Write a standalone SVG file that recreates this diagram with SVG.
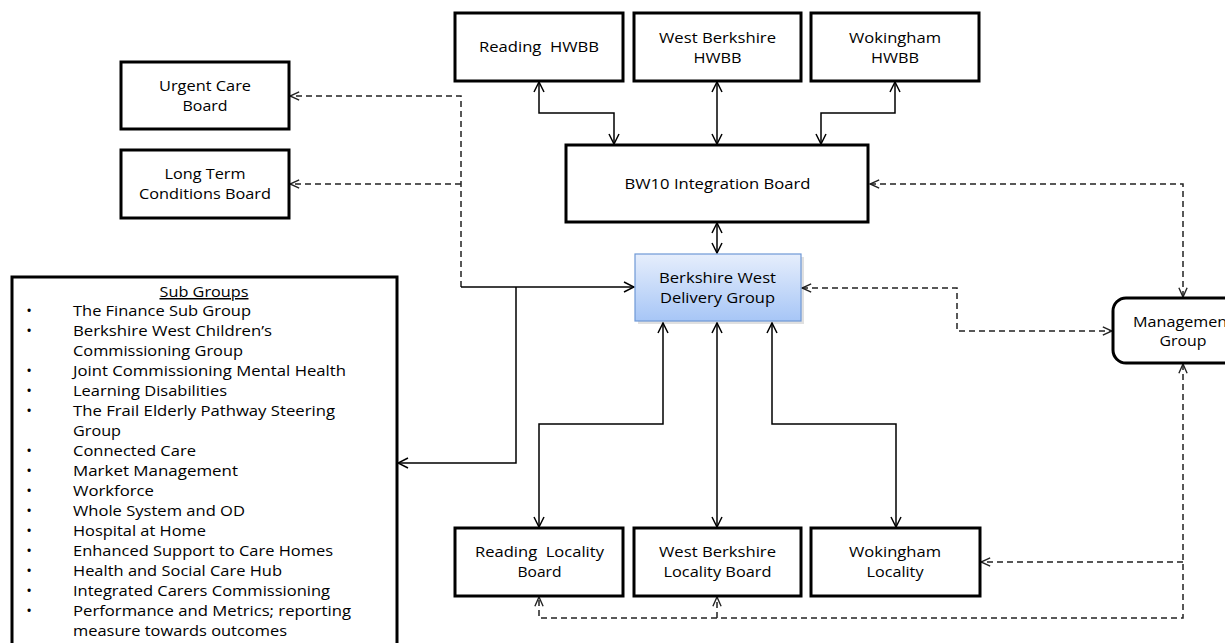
<svg xmlns="http://www.w3.org/2000/svg" width="1225" height="643" viewBox="0 0 1225 643">
<style>
  .box { fill: #ffffff; stroke: #000; stroke-width: 3; }
  .t { font-family: "Open Sans", "Liberation Sans", sans-serif; font-size: 15px; fill: #000; }
  .c { text-anchor: middle; }
  .solid { fill: none; stroke: #000; stroke-width: 1.5; }
  .dash { fill: none; stroke: #222; stroke-width: 1.5; stroke-dasharray: 6 4; }
</style>
<defs>
  <marker id="ah" viewBox="0 0 12 12" markerWidth="12" markerHeight="12" refX="11" refY="6" orient="auto-start-reverse" markerUnits="userSpaceOnUse">
    <path d="M1,1 L11,6 L1,11" fill="none" stroke="#000" stroke-width="1.5"/>
  </marker>
  <marker id="ahd" viewBox="0 0 12 12" markerWidth="11" markerHeight="11" refX="11" refY="6" orient="auto-start-reverse" markerUnits="userSpaceOnUse">
    <path d="M1,1.5 L11,6 L1,10.5" fill="none" stroke="#222" stroke-width="1.5"/>
  </marker>
  <linearGradient id="blue" x1="0" y1="0" x2="0" y2="1">
    <stop offset="0" stop-color="#e6eefc"/>
    <stop offset="1" stop-color="#a7c6f6"/>
  </linearGradient>
</defs>

<g id="connectors">
  <path class="solid" d="M539,82 V113 H614 V144" marker-start="url(#ah)" marker-end="url(#ah)"/>
  <path class="solid" d="M717,82 V144" marker-start="url(#ah)" marker-end="url(#ah)"/>
  <path class="solid" d="M895,82 V113 H821 V144" marker-start="url(#ah)" marker-end="url(#ah)"/>
  <path class="solid" d="M717,223 V253" marker-start="url(#ah)" marker-end="url(#ah)"/>
  <path class="dash" d="M461,287 V96 H290" marker-end="url(#ahd)"/>
  <path class="dash" d="M461,184 H290" marker-end="url(#ahd)"/>
  <path class="solid" d="M461,287 H634" marker-end="url(#ah)"/>
  <path class="solid" d="M516,287 V463 H398" marker-end="url(#ah)"/>
  <path class="solid" d="M663,323 V424 H539 V527" marker-start="url(#ah)" marker-end="url(#ah)"/>
  <path class="solid" d="M717,323 V527" marker-start="url(#ah)" marker-end="url(#ah)"/>
  <path class="solid" d="M772,323 V424 H896 V527" marker-start="url(#ah)" marker-end="url(#ah)"/>
  <path class="dash" d="M870,184 H1183 V297" marker-start="url(#ahd)" marker-end="url(#ahd)"/>
  <path class="dash" d="M802,288 H957 V331 H1112" marker-start="url(#ahd)" marker-end="url(#ahd)"/>
  <path class="dash" d="M1183,364 V618 H539 V597" marker-start="url(#ahd)" marker-end="url(#ahd)"/>
  <path class="dash" d="M717,618 V597" marker-end="url(#ahd)"/>
  <path class="dash" d="M1183,562 H981" marker-end="url(#ahd)"/>
</g>

<g id="reading-hwbb">
  <rect class="box" x="455" y="13" width="168" height="68"/>
  <text class="t c" x="539" y="52" textLength="120" lengthAdjust="spacingAndGlyphs" xml:space="preserve">Reading  HWBB</text>
</g>
<g id="west-berkshire-hwbb">
  <rect class="box" x="634" y="13" width="167" height="68"/>
  <text class="t c" x="717.5" y="43" textLength="117" lengthAdjust="spacingAndGlyphs">West Berkshire</text>
  <text class="t c" x="717.5" y="63" textLength="48" lengthAdjust="spacingAndGlyphs">HWBB</text>
</g>
<g id="wokingham-hwbb">
  <rect class="box" x="811" y="13" width="168" height="68"/>
  <text class="t c" x="895" y="43" textLength="92" lengthAdjust="spacingAndGlyphs">Wokingham</text>
  <text class="t c" x="895" y="63" textLength="48" lengthAdjust="spacingAndGlyphs">HWBB</text>
</g>
<g id="bw10-integration-board">
  <rect class="box" x="566" y="145" width="302" height="77"/>
  <text class="t c" x="717.5" y="189" textLength="186" lengthAdjust="spacingAndGlyphs">BW10 Integration Board</text>
</g>
<g id="urgent-care-board">
  <rect class="box" x="121" y="62" width="168" height="67"/>
  <text class="t c" x="205" y="91" textLength="92" lengthAdjust="spacingAndGlyphs">Urgent Care</text>
  <text class="t c" x="205" y="111" textLength="45" lengthAdjust="spacingAndGlyphs">Board</text>
</g>
<g id="long-term-conditions-board">
  <rect class="box" x="121" y="150" width="168" height="68"/>
  <text class="t c" x="205" y="179" textLength="81" lengthAdjust="spacingAndGlyphs">Long Term</text>
  <text class="t c" x="205" y="199" textLength="132" lengthAdjust="spacingAndGlyphs">Conditions Board</text>
</g>
<g id="delivery-group">
  <rect x="638" y="257" width="166" height="67" fill="#000" opacity="0.12"/>
  <rect x="635" y="254" width="166" height="67" fill="url(#blue)" stroke="#6e98d6" stroke-width="1.2"/>
  <text class="t c" x="717.5" y="283" textLength="117" lengthAdjust="spacingAndGlyphs">Berkshire West</text>
  <text class="t c" x="717.5" y="303" textLength="115" lengthAdjust="spacingAndGlyphs">Delivery Group</text>
</g>
<g id="management-group">
  <rect class="box" x="1113" y="298" width="150" height="65" rx="13"/>
  <text class="t c" x="1183" y="327" textLength="100" lengthAdjust="spacingAndGlyphs">Management</text>
  <text class="t c" x="1183" y="346" textLength="47" lengthAdjust="spacingAndGlyphs">Group</text>
</g>
<g id="reading-locality-board">
  <rect class="box" x="455" y="528" width="168" height="68"/>
  <text class="t c" x="539.5" y="557" textLength="129" lengthAdjust="spacingAndGlyphs" xml:space="preserve">Reading  Locality</text>
  <text class="t c" x="539.5" y="577" textLength="44" lengthAdjust="spacingAndGlyphs">Board</text>
</g>
<g id="west-berkshire-locality-board">
  <rect class="box" x="634" y="528" width="167" height="68"/>
  <text class="t c" x="717.5" y="557" textLength="117" lengthAdjust="spacingAndGlyphs">West Berkshire</text>
  <text class="t c" x="717.5" y="577" textLength="108" lengthAdjust="spacingAndGlyphs">Locality Board</text>
</g>
<g id="wokingham-locality">
  <rect class="box" x="811" y="528" width="169" height="68"/>
  <text class="t c" x="895" y="557" textLength="92" lengthAdjust="spacingAndGlyphs">Wokingham</text>
  <text class="t c" x="895" y="577" textLength="57" lengthAdjust="spacingAndGlyphs">Locality</text>
</g>
<g id="sub-groups">
  <rect class="box" x="12" y="277" width="385" height="400"/>
  <text class="t c" x="204" y="297" textLength="89" lengthAdjust="spacingAndGlyphs" text-decoration="underline">Sub Groups</text>
  <g class="t c">
    <text x="29" y="316">•</text>
    <text x="29" y="336">•</text>
    <text x="29" y="376">•</text>
    <text x="29" y="396">•</text>
    <text x="29" y="416">•</text>
    <text x="29" y="456">•</text>
    <text x="29" y="476">•</text>
    <text x="29" y="496">•</text>
    <text x="29" y="516">•</text>
    <text x="29" y="536">•</text>
    <text x="29" y="556">•</text>
    <text x="29" y="576">•</text>
    <text x="29" y="596">•</text>
    <text x="29" y="616">•</text>
  </g>
  <g class="t">
    <text x="73" y="316" textLength="178" lengthAdjust="spacingAndGlyphs">The Finance Sub Group</text>
    <text x="73" y="336" textLength="199" lengthAdjust="spacingAndGlyphs">Berkshire West Children’s</text>
    <text x="73" y="356" textLength="170" lengthAdjust="spacingAndGlyphs">Commissioning Group</text>
    <text x="73" y="376" textLength="273" lengthAdjust="spacingAndGlyphs">Joint Commissioning Mental Health</text>
    <text x="73" y="396" textLength="154" lengthAdjust="spacingAndGlyphs">Learning Disabilities</text>
    <text x="73" y="416" textLength="262" lengthAdjust="spacingAndGlyphs">The Frail Elderly Pathway Steering</text>
    <text x="73" y="436" textLength="48" lengthAdjust="spacingAndGlyphs">Group</text>
    <text x="73" y="456" textLength="123" lengthAdjust="spacingAndGlyphs">Connected Care</text>
    <text x="73" y="476" textLength="165" lengthAdjust="spacingAndGlyphs">Market Management</text>
    <text x="73" y="496" textLength="81" lengthAdjust="spacingAndGlyphs">Workforce</text>
    <text x="73" y="516" textLength="172" lengthAdjust="spacingAndGlyphs">Whole System and OD</text>
    <text x="73" y="536" textLength="133" lengthAdjust="spacingAndGlyphs">Hospital at Home</text>
    <text x="73" y="556" textLength="260" lengthAdjust="spacingAndGlyphs">Enhanced Support to Care Homes</text>
    <text x="73" y="576" textLength="209" lengthAdjust="spacingAndGlyphs">Health and Social Care Hub</text>
    <text x="73" y="596" textLength="257" lengthAdjust="spacingAndGlyphs">Integrated Carers Commissioning</text>
    <text x="73" y="616" textLength="278" lengthAdjust="spacingAndGlyphs">Performance and Metrics; reporting</text>
    <text x="73" y="636" textLength="214" lengthAdjust="spacingAndGlyphs">measure towards outcomes</text>
  </g>
</g>
</svg>
